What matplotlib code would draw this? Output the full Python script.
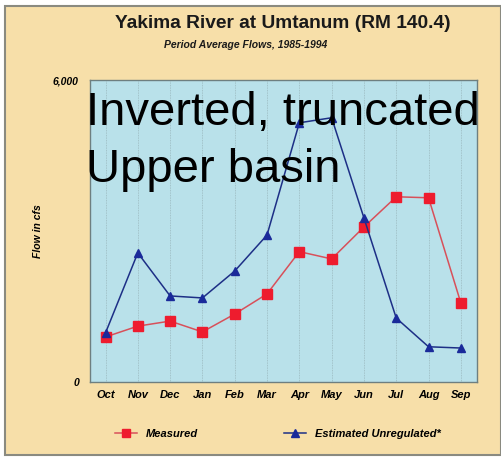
import matplotlib
matplotlib.use("Agg")
import matplotlib.pyplot as plt
from matplotlib.patches import Rectangle
from matplotlib.lines import Line2D

months = ['Oct', 'Nov', 'Dec', 'Jan', 'Feb', 'Mar', 'Apr', 'May', 'Jun', 'Jul', 'Aug', 'Sep']
measured = [895, 1110, 1210, 995, 1350, 1750, 2590, 2445, 3080, 3680, 3660, 1570]
unregulated = [975, 2565, 1710, 1670, 2205, 2920, 5150, 5250, 3260, 1270, 700, 675]
overlay = ['Inverted, truncated', 'Upper basin']

plt.rcParams['font.family'] = ['Liberation Sans', 'DejaVu Sans']

fig = plt.figure(figsize=(5.01, 4.61), dpi=100)
fig.patch.set_facecolor('white')
# beige panel behind the chart
fig.patches.append(Rectangle((0.01, 0.012), 0.99, 0.976, transform=fig.transFigure,
                             facecolor='#f7dfa9', edgecolor='#8a8a80', lw=1.5, zorder=-5))

ax = fig.add_axes([90/501, 1-382/461, 387/501, 302/461])
ax.set_facecolor('#b9e1ea')
x = list(range(len(months)))
for xi in x:
    ax.axvline(xi, color='#9ab8be', lw=0.6, ls=(0, (1, 1)), zorder=1)

ax.plot(x, measured, color='#d8505a', lw=1.1, marker='s', ms=7,
        mfc='#ee1c2e', mec='#ee1c2e', zorder=3)
ax.plot(x, unregulated, color='#1d2f86', lw=1.1, marker='^', ms=6,
        mfc='#1a2a9a', mec='#1a2a9a', zorder=3)

ax.set_xlim(-0.48, 11.5)
ax.set_ylim(0, 6000)
ax.set_yticks([0, 6000])
ax.set_yticklabels(['0', '6,000'], fontsize=7.5, fontstyle='italic', fontweight='bold')
ax.set_xticks(x)
ax.set_xticklabels(months, fontsize=8, fontstyle='italic', fontweight='bold')
ax.tick_params(length=0, pad=6)
ax.tick_params(axis='y', pad=8)
for s in ax.spines.values():
    s.set_color('#6e7f80')
    s.set_linewidth(1.0)
ax.set_ylabel('Flow in cfs', fontsize=7.5, fontstyle='italic', fontweight='bold', labelpad=7)

fig.text(283/501, 1-24/461, 'Yakima River at Umtanum (RM 140.4)', ha='center', va='center',
         fontsize=13.8, fontweight='bold', color='#1a1a1a')
fig.text(246/501, 1-45/461, 'Period Average Flows, 1985-1994', ha='center', va='center',
         fontsize=7.5, fontstyle='italic', fontweight='bold', color='#1a1a1a')

fig.text(86/501, 1-125/461, overlay[0], ha='left', va='baseline', fontsize=34, color='black', zorder=10)
fig.text(86/501, 1-182/461, overlay[1], ha='left', va='baseline', fontsize=34, color='black', zorder=10)

handles = [Line2D([], [], color='#d8505a', marker='s', mfc='#ee1c2e', mec='#ee1c2e', ms=6, lw=1.1),
           Line2D([], [], color='#1d2f86', marker='^', mfc='#1a2a9a', mec='#1a2a9a', ms=6, lw=1.1)]
fig.legend(handles, ['Measured', 'Estimated Unregulated*'], loc='center',
           bbox_to_anchor=(278/501, 1-434/461), ncol=2, frameon=False, columnspacing=7.7,
           prop={'size': 8, 'style': 'italic', 'weight': 'bold'})

fig.savefig('out.png', dpi=100, facecolor=fig.get_facecolor())
